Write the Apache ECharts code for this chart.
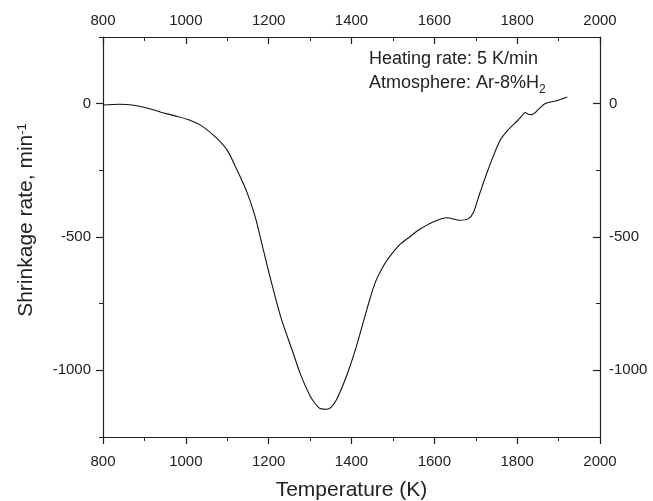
<!DOCTYPE html>
<html>
<head>
<meta charset="utf-8">
<script src="https://cdn.jsdelivr.net/npm/echarts@6/dist/echarts.min.js"></script>
<style>
  html, body { margin: 0; padding: 0; background: #fff; }
  #chart { width: 653px; height: 501px; }
</style>
</head>
<body>
<div id="chart"></div>
<script type="application/javascript">
// temperature (K) and shrinkage rate
const temps = [800, 840, 870, 910, 940, 970, 1010, 1040, 1075, 1100, 1123, 1147, 1167, 1187,
  1207, 1231, 1256, 1278, 1300, 1315, 1324, 1340, 1350, 1364, 1388, 1412, 1437, 1457, 1477,
  1493, 1517, 1541, 1561, 1597, 1630, 1662, 1682, 1694, 1710, 1730, 1758, 1780, 1800, 1812,
  1819, 1827, 1835, 1855, 1867, 1895, 1921];
const rates = [-5, -2, -5, -18, -32, -44, -62, -85, -130, -175, -247, -330, -422, -547,
  -672, -809, -921, -1020, -1096, -1130, -1143, -1146, -1140, -1109, -1021, -909, -772, -672, -609,
  -572, -528, -499, -475, -444, -428, -437, -432, -409, -335, -247, -140, -95, -65, -45,
  -33, -40, -41, -16, 0, 11, 25];
const yMajor = [-1000, -500, 0];
const yMinor = [-1250, -750, -250, 250];

const FONT = 'Liberation Sans, Arial, sans-serif';
const INK = '#222';

const chart = echarts.init(document.getElementById('chart'));

function plain(v) {
  return String(v);
}

function xAxis(pos) {
  const top = pos === 'top';
  return {
    type: 'value', position: pos, min: 800, max: 2000, interval: 200,
    axisLine: { show: true, onZero: false, lineStyle: { color: INK, width: 1.2 } },
    axisTick: { show: true, inside: top, length: 7, lineStyle: { color: INK, width: 1.2 } },
    minorTick: { show: true, splitNumber: 2, length: 4, lineStyle: { color: INK, width: 1 } },
    axisLabel: { show: true, margin: top ? 9 : 17, color: INK, fontSize: 15, fontFamily: FONT, formatter: plain },
    splitLine: { show: false },
    name: top ? '' : 'Temperature (K)',
    nameLocation: 'middle', nameGap: 43,
    nameTextStyle: { color: INK, fontSize: 21, fontFamily: FONT }
  };
}

function yAxis(pos, major) {
  const right = pos === 'right';
  const base = {
    type: 'value', position: pos, min: -1250, max: 250, interval: 250,
    splitLine: { show: false }
  };
  if (!major) {
    return Object.assign(base, {
      axisLine: { show: false },
      axisTick: { show: true, inside: right, length: 4, customValues: yMinor, lineStyle: { color: INK, width: 1 } },
      axisLabel: { show: false }
    });
  }
  return Object.assign(base, {
    axisLine: { show: true, onZero: false, lineStyle: { color: INK, width: 1.2 } },
    axisTick: { show: true, inside: right, length: 7, customValues: yMajor, lineStyle: { color: INK, width: 1.2 } },
    axisLabel: { show: true, customValues: yMajor, margin: right ? 9 : 12, color: INK, fontSize: 15, fontFamily: FONT, formatter: plain }
  });
}

const option = {
  animation: false,
  backgroundColor: '#fff',
  grid: { left: 103, right: 53, top: 37, bottom: 64, outerBoundsMode: 'none', containLabel: false },
  xAxis: [xAxis('bottom'), xAxis('top')],
  yAxis: [yAxis('left', true), yAxis('right', true), yAxis('left', false), yAxis('right', false)],
  graphic: [
    {
      type: 'text', x: 26, y: 220, rotation: Math.PI / 2,
      style: {
        text: '{n|Shrinkage rate, min}{sup|-1}',
        align: 'center', verticalAlign: 'middle',
        rich: {
          n: { fontSize: 21, lineHeight: 21, verticalAlign: 'top', fontFamily: FONT, fill: INK, color: INK },
          sup: { fontSize: 13, lineHeight: 13, verticalAlign: 'top', fontFamily: FONT, fill: INK, color: INK }
        }
      }
    },
    {
      type: 'text', left: 369, top: 50,
      style: { text: 'Heating rate: 5 K/min', font: '18px ' + FONT, fill: INK }
    },
    {
      type: 'text', left: 369, top: 74,
      style: {
        text: '{n|Atmosphere: Ar-8%H}{sub|2}',
        rich: {
          n: { fontSize: 18, lineHeight: 18, verticalAlign: 'top', fontFamily: FONT, fill: INK, color: INK },
          sub: { fontSize: 12, lineHeight: 12, verticalAlign: 'top', padding: [10, 0, 0, 0], fontFamily: FONT, fill: INK, color: INK }
        }
      }
    }
  ],
  series: [{
    type: 'line',
    xAxisIndex: 0, yAxisIndex: 0,
    data: temps.map((t, i) => [t, rates[i]]),
    smooth: 0.3,
    showSymbol: false,
    lineStyle: { color: '#111', width: 1.1 }
  }]
};

chart.setOption(option);
</script>
</body>
</html>
